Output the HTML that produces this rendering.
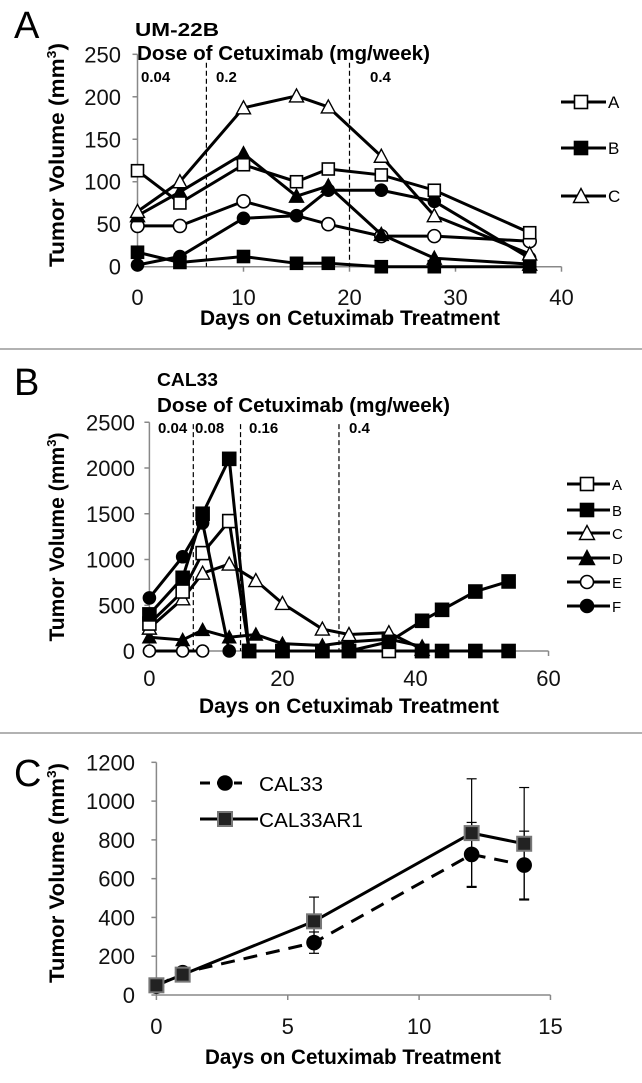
<!DOCTYPE html>
<html><head><meta charset="utf-8"><style>
html,body{margin:0;padding:0;background:#fff;}
svg{display:block;font-family:"Liberation Sans",Arial,sans-serif;}
.tk{font-size:22px;fill:#111;}
.b{font-weight:bold;}
</style></head><body>
<svg id="fig" width="642" height="1083" viewBox="0 0 642 1083" xmlns="http://www.w3.org/2000/svg">
<line x1="0" y1="349" x2="642" y2="349" stroke="#999" stroke-width="1.5"/>
<line x1="0" y1="733" x2="642" y2="733" stroke="#999" stroke-width="1.5"/>
<text x="14" y="38" font-size="38">A</text>
<text x="14" y="395" font-size="38">B</text>
<text x="14" y="786" font-size="38">C</text>
<text class="b" x="135" y="36" font-size="18" textLength="84" lengthAdjust="spacingAndGlyphs">UM-22B</text>
<text class="b" x="137" y="60" font-size="20" textLength="293" lengthAdjust="spacingAndGlyphs">Dose of Cetuximab (mg/week)</text>
<text class="b" x="157" y="386" font-size="18" textLength="61" lengthAdjust="spacingAndGlyphs">CAL33</text>
<text class="b" x="157" y="412" font-size="20" textLength="293" lengthAdjust="spacingAndGlyphs">Dose of Cetuximab (mg/week)</text>
<g id="gA"></g>
<g id="gB"></g>
<g id="gC"></g>
</svg>
<script>
// ---- Panel A data ----
const aDays=[0,4,10,15,18,23,28,37];
const aSerA=[113,75,120,100,115,108,90,40];
const aSerB=[17,5,12,4,4,0,0,0];
const aSerC=[65,100,187,201,188,130,60,15];
const aFTri=[60,88,133,83,95,38,10,3];
const aOCircDays=[0,4,10,18,23,28,37];
const aOCirc=[48,48,77,50,36,36,30];
const aFCirc=[2,12,57,60,90,90,77,10];
const aXTicks=[0,10,20,30,40];
const aYTicks=[0,50,100,150,200,250];
const aDoseDays=[6.5,20];
const aDoseLabels=["0.04","0.2","0.4"];
// ---- Panel B data ----
const bDaysA=[0,5,8,12,15,20,26,30,36,41];
const bSerA=[300,650,1070,1420,0,0,0,0,0,0];
const bDaysB=[0,5,8,12,15,20,26,30,36,41,44,49,54];
const bSerB=[400,800,1500,2100,0,0,0,0,100,330,450,650,760];
const bDaysZ=[41,44,49,54];
const bSerZ=[0,0,0,0];
const bDaysC=[0,5,8,12,16,20,26,30,36,41];
const bSerC=[250,570,850,950,770,520,240,180,200,20];
const bDaysD=[0,5,8,12,16,20,26,30,36,41];
const bSerD=[150,120,230,150,180,80,60,100,130,50];
const bDaysE=[0,5,8];
const bSerE=[0,0,0];
const bDaysF=[0,5,8,12];
const bSerF=[580,1030,1400,0];
const bXTicks=[0,20,40,60];
const bYTicks=[0,500,1000,1500,2000,2500];
const bDoseDays=[6.6,13.7,28.5];
const bDoseLabels=["0.04","0.08","0.16","0.4"];
// ---- Panel C data ----
const cDays=[0,1,6,12,14];
const cCal33=[45,115,270,725,670];
const cCal33Err=[10,20,55,165,175];
const cAR1=[50,105,380,835,780];
const cAR1Err=[10,20,125,280,290];
const cXTicks=[0,5,10,15];
const cYTicks=[0,200,400,600,800,1000,1200];

const NS="http://www.w3.org/2000/svg";
function mk(parent,tag,attrs,name){const e=document.createElementNS(NS,tag);for(const k in attrs)e.setAttribute(k,attrs[k]);


parent.appendChild(e);return e;}
function txt(parent,x,y,s,attrs,name){const e=mk(parent,'text',Object.assign({x:x,y:y},attrs),name);e.textContent=s;return e;}
function marker(g,type,x,y,sz,name,fill){
  const h=sz/2;let e;
  if(type==='osq'||type==='fsq'){e=mk(g,'rect',{x:x-h,y:y-h,width:sz,height:sz,fill:fill||(type==='fsq'?'#000':'#fff'),stroke:fill?'#777':'#000','stroke-width':fill?2:1.6},name);}
  else if(type==='otri'||type==='ftri'){e=mk(g,'polygon',{points:`${x},${y-h-1} ${x-h-1},${y+h} ${x+h+1},${y+h}`,fill:type==='ftri'?'#000':'#fff',stroke:'#000','stroke-width':1.4},name);}
  else {e=mk(g,'circle',{cx:x,cy:y,r:h,fill:type==='fcirc'?'#000':'#fff',stroke:'#000','stroke-width':1.6},name);}
  return e;}
function axes(g,X,Y,xt,yt,x0,x1,y0,y1,labX,tickY,prefix){
  mk(g,'line',{x1:X(x0),y1:Y(y0),x2:X(x0),y2:Y(y1),stroke:'#888','stroke-width':1.5},prefix+'-y-axis');
  mk(g,'line',{x1:X(x0),y1:Y(y0),x2:X(x1),y2:Y(y0),stroke:'#888','stroke-width':1.5},prefix+'-x-axis');
  xt.forEach(v=>{mk(g,'line',{x1:X(v),y1:Y(y0),x2:X(v),y2:Y(y0)+5,stroke:'#888','stroke-width':1.5},prefix+'-x-tick');
    txt(g,X(v),tickY,String(v),{class:'tk','text-anchor':'middle'},prefix+'-x-tick-label');});
  yt.forEach(v=>{mk(g,'line',{x1:X(x0)-5,y1:Y(v),x2:X(x0),y2:Y(v),stroke:'#888','stroke-width':1.5},prefix+'-y-tick');
    txt(g,labX,Y(v)+8,String(v),{class:'tk','text-anchor':'end'},prefix+'-y-tick-label');});
}
function xtitle(g,x,y,len,name){txt(g,x,y,'Days on Cetuximab Treatment',{'font-size':21,'font-weight':'bold',textLength:len,lengthAdjust:'spacingAndGlyphs'},name);}
function series(g,X,Y,days,vals,type,sz,name){
  const pts=days.map((d,i)=>X(d)+','+Y(vals[i])).join(' ');
  mk(g,'polyline',{points:pts,fill:'none',stroke:'#000','stroke-width':3},name+'-line');
  days.forEach((d,i)=>marker(g,type,X(d),Y(vals[i]),sz,name+'-point'));
}
function ytitle(g,x,y,len,name){const t=mk(g,'text',{x:0,y:0,transform:`translate(${x},${y}) rotate(-90)`,'text-anchor':'middle','font-size':21,'font-weight':'bold',textLength:len,lengthAdjust:'spacingAndGlyphs'},name);
  t.innerHTML='Tumor Volume (mm<tspan dy="-8" font-size="13">3</tspan><tspan dy="8">)</tspan>';}
function legendRow(g,x1,x2,xm,xt,y,type,label,name,fsz){
  mk(g,'line',{x1:x1,y1:y,x2:x2,y2:y,stroke:'#000','stroke-width':3},name+'-line');
  marker(g,type,xm,y,13,name+'-marker');
  txt(g,xt,y+6,label,{'font-size':fsz||17},name+'-label');
}

// Panel A
(function(){
 const g=document.getElementById('gA');
 const X=d=>137.5+d*10.6, Y=v=>266.7-v*0.8496;
 axes(g,X,Y,aXTicks,aYTicks,0,40,0,250,121,305,'panel-a');
 xtitle(g,200,325,300,'panel-a-x-axis-title');
 ytitle(g,64,155,224,'panel-a-y-axis-title');
 aDoseDays.forEach(d=>mk(g,'line',{x1:X(d),y1:Y(240),x2:X(d),y2:Y(0),stroke:'#000','stroke-width':1.2,'stroke-dasharray':'5,3'},'panel-a-dose-divider'));
 const lx=[141,216,370];
 aDoseLabels.forEach((s,i)=>txt(g,lx[i],82,s,{'font-size':15,'font-weight':'bold'},'panel-a-dose-label'));
 series(g,X,Y,aDays,aSerB,'fsq',12,'panel-a-series-b');
 series(g,X,Y,aDays,aFCirc,'fcirc',12,'panel-a-series-filled-circle');
 series(g,X,Y,aOCircDays,aOCirc,'ocirc',13,'panel-a-series-open-circle');
 series(g,X,Y,aDays,aFTri,'ftri',12,'panel-a-series-filled-triangle');
 series(g,X,Y,aDays,aSerA,'osq',12,'panel-a-series-a');
 series(g,X,Y,aDays,aSerC,'otri',12,'panel-a-series-c');
 legendRow(g,561,606,581,608,102,'osq','A','panel-a-legend-a');
 legendRow(g,561,606,581,608,148,'fsq','B','panel-a-legend-b');
 legendRow(g,561,606,581,608,196,'otri','C','panel-a-legend-c');
})();
// Panel B
(function(){
 const g=document.getElementById('gB');
 const X=d=>149.4+d*6.652, Y=v=>651-v*0.0915;
 axes(g,X,Y,bXTicks,bYTicks,0,60,0,2500,135,686,'panel-b');
 xtitle(g,199,713,300,'panel-b-x-axis-title');
 ytitle(g,64,537,209,'panel-b-y-axis-title');
 bDoseDays.forEach(d=>mk(g,'line',{x1:X(d),y1:Y(2480),x2:X(d),y2:Y(0),stroke:'#000','stroke-width':1.2,'stroke-dasharray':'5,3'},'panel-b-dose-divider'));
 const lx=[158,195,249,349];
 bDoseLabels.forEach((s,i)=>txt(g,lx[i],433,s,{'font-size':15,'font-weight':'bold'},'panel-b-dose-label'));
 series(g,X,Y,bDaysE,bSerE,'ocirc',12,'panel-b-series-e');
 series(g,X,Y,bDaysD,bSerD,'ftri',11,'panel-b-series-d');
 series(g,X,Y,bDaysC,bSerC,'otri',12,'panel-b-series-c');
 series(g,X,Y,bDaysA,bSerA,'osq',13,'panel-b-series-a');
 series(g,X,Y,bDaysZ,bSerZ,'fsq',13,'panel-b-series-zero');
 series(g,X,Y,bDaysB,bSerB,'fsq',13,'panel-b-series-b');
 series(g,X,Y,bDaysF,bSerF,'fcirc',12,'panel-b-series-f');
 const rows=[484,510,533,558,582,606],types=['osq','fsq','otri','ftri','ocirc','fcirc'],labs=['A','B','C','D','E','F'];
 rows.forEach((y,i)=>legendRow(g,567,610,587,612,y,types[i],labs[i],'panel-b-legend-'+labs[i].toLowerCase(),15));
})();
// Panel C
(function(){
 const g=document.getElementById('gC');
 const X=d=>156.4+d*26.27, Y=v=>995-v*0.1939;
 axes(g,X,Y,cXTicks,cYTicks,0,15,0,1200,135,1034,'panel-c');
 xtitle(g,205,1064,296,'panel-c-x-axis-title');
 ytitle(g,64,873,220,'panel-c-y-axis-title');
 function err(days,vals,errs,name){days.forEach((d,i)=>{const x=X(d);
   mk(g,'line',{x1:x,y1:Y(vals[i]-errs[i]),x2:x,y2:Y(vals[i]+errs[i]),stroke:'#000','stroke-width':1.2},name+'-error-bar');
   [vals[i]-errs[i],vals[i]+errs[i]].forEach(v=>mk(g,'line',{x1:x-5,y1:Y(v),x2:x+5,y2:Y(v),stroke:'#000','stroke-width':1.2},name+'-error-cap'));});}
 err(cDays,cCal33,cCal33Err,'panel-c-cal33');
 err(cDays,cAR1,cAR1Err,'panel-c-cal33ar1');
 mk(g,'polyline',{points:cDays.map((d,i)=>X(d)+','+Y(cCal33[i])).join(' '),fill:'none',stroke:'#000','stroke-width':3,'stroke-dasharray':'14,9'},'panel-c-cal33-line');
 cDays.forEach((d,i)=>marker(g,'fcirc',X(d),Y(cCal33[i]),14,'panel-c-cal33-point'));
 mk(g,'polyline',{points:cDays.map((d,i)=>X(d)+','+Y(cAR1[i])).join(' '),fill:'none',stroke:'#000','stroke-width':3},'panel-c-cal33ar1-line');
 cDays.forEach((d,i)=>marker(g,'fsq',X(d),Y(cAR1[i]),14,'panel-c-cal33ar1-point','#222'));
 mk(g,'line',{x1:200,y1:783,x2:242,y2:783,stroke:'#000','stroke-width':3,'stroke-dasharray':'10,7'},'panel-c-legend-cal33-line');
 marker(g,'fcirc',225,783,14,'panel-c-legend-cal33-marker');
 txt(g,259,791,'CAL33',{'font-size':20,textLength:64,lengthAdjust:'spacingAndGlyphs'},'panel-c-legend-cal33-label');
 mk(g,'line',{x1:200,y1:819,x2:258,y2:819,stroke:'#000','stroke-width':3},'panel-c-legend-cal33ar1-line');
 marker(g,'fsq',225,819,14,'panel-c-legend-cal33ar1-marker','#222');
 txt(g,259,827,'CAL33AR1',{'font-size':20,textLength:104,lengthAdjust:'spacingAndGlyphs'},'panel-c-legend-cal33ar1-label');
})();
</script>
</body></html>
